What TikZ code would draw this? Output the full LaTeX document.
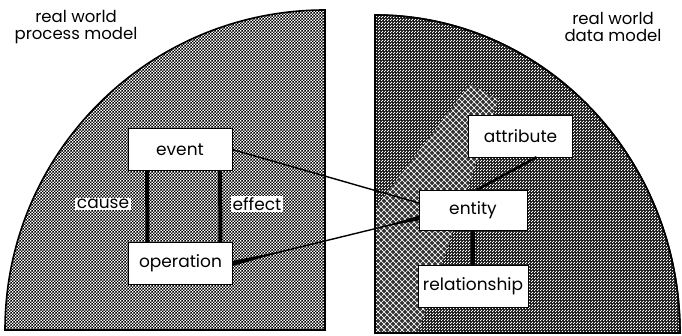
\documentclass[tikz,border=0pt]{standalone}
\usepackage{fontspec}
\setmainfont{Poppins}
\usetikzlibrary{positioning, calc, patterns}

% screen tones for the two quarters
\pgfdeclarepatternformonly{finechecker}{\pgfpointorigin}{\pgfqpoint{3.4pt}{3.4pt}}%
  {\pgfqpoint{3.4pt}{3.4pt}}{%
  \pgfpathrectangle{\pgfpointorigin}{\pgfqpoint{1.7pt}{1.7pt}}%
  \pgfpathrectangle{\pgfqpoint{1.7pt}{1.7pt}}{\pgfqpoint{1.7pt}{1.7pt}}%
  \pgfusepath{fill}}
\pgfdeclarepatternformonly{smalldots}{\pgfpointorigin}{\pgfqpoint{3pt}{3pt}}%
  {\pgfqpoint{3pt}{3pt}}{%
  \pgfpathrectangle{\pgfpointorigin}{\pgfqpoint{1.4pt}{1.4pt}}%
  \pgfpathrectangle{\pgfqpoint{1.5pt}{1.5pt}}{\pgfqpoint{1.4pt}{1.4pt}}%
  \pgfusepath{fill}}
\pgfdeclarepatternformonly{diamondmesh}{\pgfqpoint{-1pt}{-1pt}}{\pgfqpoint{7pt}{7pt}}%
  {\pgfqpoint{6pt}{6pt}}{%
  \pgfsetlinewidth{0.7pt}%
  \pgfpathmoveto{\pgfpointorigin}\pgfpathlineto{\pgfqpoint{6pt}{6pt}}%
  \pgfpathmoveto{\pgfqpoint{0pt}{6pt}}\pgfpathlineto{\pgfqpoint{6pt}{0pt}}%
  \pgfusepath{stroke}}

\tikzset{
  x=1pt, y=1pt,
  modelbox/.style={draw, thin, fill=white, minimum width=104pt,
    minimum height=42pt, font=\fontsize{17}{19}\selectfont}, % the white boxes
  tag/.style={fill=white, inner sep=1.5pt, font=\fontsize{17}{19}\selectfont},
  title/.style={align=center, font=\fontsize{16.5}{17}\selectfont},
  link/.style={line width=4pt}, % the short upright links
}

\begin{document}
\begin{tikzpicture}
  \useasboundingbox (0,0) rectangle (682,336);

  % process side
  \filldraw[line width=1.6pt, preaction={fill=white},
    pattern=finechecker, pattern color=black]
    (325,6) -- (5,6) arc[start angle=180, end angle=90, radius=320pt] -- cycle;

  % data side, with the mesh band along its lower left
  \filldraw[line width=1.6pt, preaction={fill=black!90},
    pattern=smalldots, pattern color=white!85]
    (375,3) -- (375,321) arc[start angle=90, end angle=0,
    x radius=305pt, y radius=318pt] -- cycle;
  \begin{scope}
    \clip (375,3) -- (375,321) arc[start angle=90, end angle=0,
      x radius=305pt, y radius=318pt] -- cycle;
    \fill[black!80] (377,4) -- (418,4) -- (498,236) -- (470,252) -- (377,130) -- cycle;
    \fill[pattern=diamondmesh, pattern color=white!60]
      (377,4) -- (418,4) -- (498,236) -- (470,252) -- (377,130) -- cycle;
  \end{scope}
  \draw[line width=1.6pt] (375,3) -- (375,321) arc[start angle=90, end angle=0,
    x radius=305pt, y radius=318pt] -- cycle;

  \node[title] (process_title) at (76,309) {real world\\process model};
  \node[title] (data_title) at (613,309) {real world\\data model};

  \node[modelbox] (event) at (180,186.5) {event};
  \node[modelbox] (operation) at (180.5,72.5) {operation};
  \node[tag] (cause) at (103,132) {cause};
  \node[tag] (effect) at (257,132) {effect};

  \node[modelbox] (attribute) at (520.5,200) {attribute};
  \node[modelbox, minimum width=108pt, minimum height=40pt] (entity) at (473,126) {entity};
  \node[modelbox, minimum width=110pt, inner xsep=2pt] (relationship) at (473,50) {relationship};

  \draw[link] ([xshift=-33pt]event.south) -- ([xshift=-33pt]operation.north);
  \draw[link] ([xshift=40pt]event.south) -- ([xshift=40pt]operation.north);
  \draw[link] (entity) -- (relationship);
  \draw[line width=2.5pt] ([xshift=16pt]attribute.south) -- ([xshift=4pt]entity.north);

  % links across the two quarters
  \draw[line width=1.4pt] (event.east) -- ([yshift=7pt]entity.west);
  \coordinate (op_end) at ([yshift=-8pt]entity.west);
  \draw[line width=1.4pt] (operation.east) -- (op_end);
  \fill ($(operation.east)+(0,2.6)$) -- ($(operation.east)!0.3!(op_end)$)
    -- ($(operation.east)+(0,-2.6)$) -- cycle;
  \fill ($(op_end)+(0,2.4)$) -- ($(op_end)!0.2!(operation.east)$)
    -- ($(op_end)+(0,-2.4)$) -- cycle;
\end{tikzpicture}
\end{document}
